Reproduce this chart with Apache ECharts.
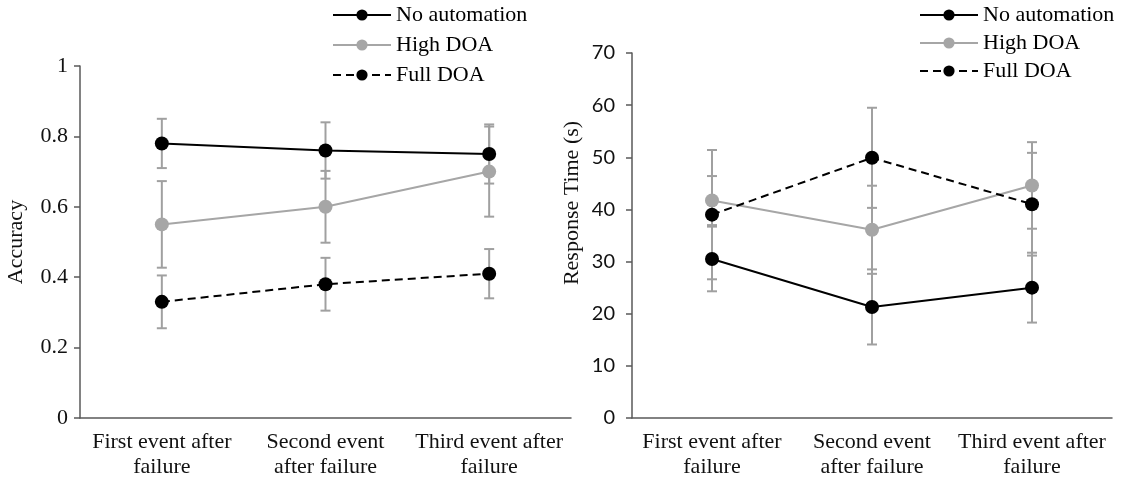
<!DOCTYPE html>
<html>
<head>
<meta charset="utf-8">
<script src="https://cdn.jsdelivr.net/npm/echarts@6/dist/echarts.min.js"></script>
<style>
  html, body { margin: 0; padding: 0; background: #fff; }
  #main { width: 1129px; height: 485px; }
</style>
</head>
<body>
<div id="main"></div>
<script>
// categories shared by both panels
const categories = ['First event after\nfailure', 'Second event\nafter failure', 'Third event after\nfailure'];
const seriesNames = ['No automation', 'High DOA', 'Full DOA'];

// accuracy panel (mean and error half-width)
const accNoAuto = [0.78, 0.76, 0.75];
const accNoAutoErr = [0.07, 0.08, 0.084];
const accHigh = [0.55, 0.60, 0.70];
const accHighErr = [0.123, 0.102, 0.128];
const accFull = [0.33, 0.38, 0.41];
const accFullErr = [0.075, 0.075, 0.07];

// response time panel
const rtNoAuto = [30.5, 21.3, 25.0];
const rtNoAutoErr = [6.2, 7.2, 6.7];
const rtHigh = [41.7, 36.1, 44.6];
const rtHighErr = [4.7, 8.45, 8.3];
const rtFull = [39.0, 49.9, 41.0];
const rtFullErr = [12.4, 9.6, 9.85];

const serif = '"Liberation Serif", "DejaVu Serif", serif';
const sans = 'Lato, "Open Sans", sans-serif';
const axisCol = '#595959';
const errCol = '#a0a0a0';

const chart = echarts.init(document.getElementById('main'));

// error bars: [category index, low, high]
function errData(vals, errs) {
  return vals.map((v, i) => [i, v - errs[i], v + errs[i]]);
}

function errSeries(data, gi) {
  return {
    type: 'custom',
    xAxisIndex: gi,
    yAxisIndex: gi,
    z: 1,
    silent: true,
    renderItem: function (params, api) {
      const lo = api.coord([api.value(0), api.value(1)]);
      const hi = api.coord([api.value(0), api.value(2)]);
      const w = 5;
      const st = { stroke: errCol, lineWidth: 2 };
      return {
        type: 'group',
        children: [
          { type: 'line', shape: { x1: lo[0], y1: lo[1], x2: hi[0], y2: hi[1] }, style: st },
          { type: 'line', shape: { x1: lo[0] - w, y1: lo[1], x2: lo[0] + w, y2: lo[1] }, style: st },
          { type: 'line', shape: { x1: hi[0] - w, y1: hi[1], x2: hi[0] + w, y2: hi[1] }, style: st }
        ]
      };
    },
    data: data
  };
}

function lineSeries(name, data, gi, color, dashed) {
  return {
    name: name,
    type: 'line',
    xAxisIndex: gi,
    yAxisIndex: gi,
    z: 3,
    data: data,
    symbol: 'circle',
    symbolSize: 14,
    itemStyle: { color: color },
    lineStyle: { color: color, width: 2, type: dashed ? [8, 5] : 'solid' }
  };
}

function xAxisCfg(gi) {
  return {
    type: 'category',
    gridIndex: gi,
    data: categories,
    axisLine: { lineStyle: { color: axisCol, width: 1.5 } },
    axisTick: { alignWithLabel: true, length: 6, lineStyle: { color: axisCol, width: 1.5 } },
    axisLabel: { interval: 0, color: '#111', fontFamily: serif, fontSize: 22, lineHeight: 25, margin: 12 }
  };
}

function legendCfg(left, gap) {
  return {
    left: left,
    top: 4,
    padding: 0,
    orient: 'vertical',
    itemWidth: 58,
    itemHeight: 14,
    itemGap: gap,
    data: seriesNames,
    textStyle: { color: '#000', fontFamily: serif, fontSize: 22 }
  };
}

const option = {
  backgroundColor: '#fff',
  animation: false,
  legend: [legendCfg(332, 8), legendCfg(919, 6)],
  grid: [
    { left: 80, top: 66, width: 491, height: 352 },
    { left: 632, top: 53, width: 480, height: 365 }
  ],
  xAxis: [xAxisCfg(0), xAxisCfg(1)],
  yAxis: [
    {
      type: 'value', gridIndex: 0, min: 0, max: 1, interval: 0.2,
      splitLine: { show: false },
      axisLine: { show: true, lineStyle: { color: axisCol, width: 1.5 } },
      axisTick: { show: true, length: 6, lineStyle: { color: axisCol, width: 1.5 } },
      axisLabel: { color: '#111', fontFamily: serif, fontSize: 22, margin: 12 }
    },
    {
      type: 'value', gridIndex: 1, min: 0, max: 70, interval: 10,
      splitLine: { show: false },
      axisLine: { show: true, lineStyle: { color: axisCol, width: 1.5 } },
      axisTick: { show: true, length: 6, lineStyle: { color: axisCol, width: 1.5 } },
      axisLabel: { color: '#111', fontFamily: sans, fontSize: 20, margin: 17 }
    }
  ],
  graphic: [
    {
      type: 'text', x: 16, y: 242, rotation: Math.PI / 2,
      style: { text: 'Accuracy', font: '22px ' + serif, fill: '#111', textAlign: 'center', textVerticalAlign: 'middle' }
    },
    {
      type: 'text', x: 572, y: 203, rotation: Math.PI / 2,
      style: { text: 'Response Time (s)', font: '22px ' + serif, fill: '#111', textAlign: 'center', textVerticalAlign: 'middle' }
    }
  ],
  series: [
    errSeries(errData(accNoAuto, accNoAutoErr), 0),
    errSeries(errData(accHigh, accHighErr), 0),
    errSeries(errData(accFull, accFullErr), 0),
    lineSeries('No automation', accNoAuto, 0, '#000', false),
    lineSeries('High DOA', accHigh, 0, '#a6a6a6', false),
    lineSeries('Full DOA', accFull, 0, '#000', true),
    errSeries(errData(rtNoAuto, rtNoAutoErr), 1),
    errSeries(errData(rtHigh, rtHighErr), 1),
    errSeries(errData(rtFull, rtFullErr), 1),
    lineSeries('No automation', rtNoAuto, 1, '#000', false),
    lineSeries('High DOA', rtHigh, 1, '#a6a6a6', false),
    lineSeries('Full DOA', rtFull, 1, '#000', true)
  ]
};

chart.setOption(option);
</script>
</body>
</html>
